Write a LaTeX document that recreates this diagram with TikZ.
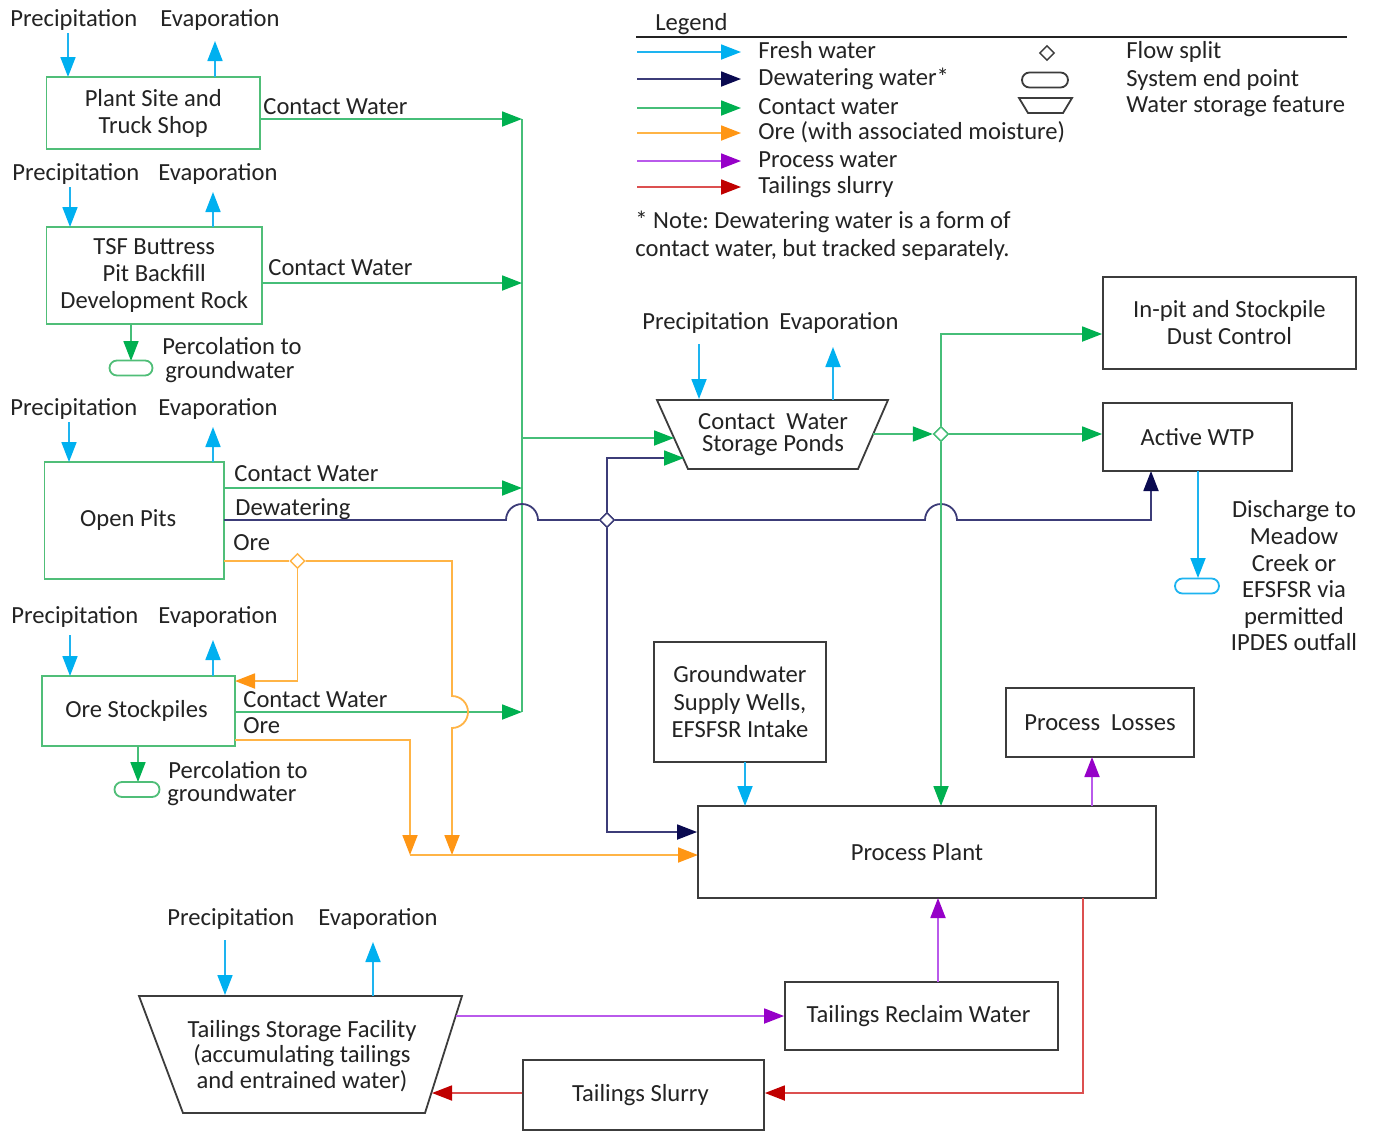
\documentclass[tikz,border=0pt]{standalone}
\usepackage{fontspec}
\setmainfont{Carlito}
\usetikzlibrary{arrows.meta,shapes.geometric,shapes.misc,fit}
\definecolor{freshL}{RGB}{30,180,240}
\definecolor{freshT}{RGB}{0,176,240}
\definecolor{dewL}{RGB}{60,60,120}
\definecolor{dewT}{RGB}{10,10,80}
\definecolor{conL}{RGB}{70,190,120}
\definecolor{conT}{RGB}{0,176,80}
\definecolor{oreL}{RGB}{255,180,70}
\definecolor{oreT}{RGB}{255,150,20}
\definecolor{proL}{RGB}{185,90,235}
\definecolor{proT}{RGB}{150,0,200}
\definecolor{tailL}{RGB}{220,80,80}
\definecolor{tailT}{RGB}{192,0,0}
\definecolor{boxG}{RGB}{80,190,120}
\definecolor{boxK}{RGB}{60,60,60}
\definecolor{txt}{RGB}{35,35,35}
\frenchspacing
\tikzset{
  every node/.style={font=\fontsize{12.3}{13.5}\selectfont, text=txt},
  lbl/.style={anchor=base west, inner sep=0pt},
  ctr/.style={inner sep=0pt, align=center},
  gbox/.style={draw=boxG, line width=0.9pt, inner sep=0pt},
  kbox/.style={draw=boxK, line width=0.9pt, inner sep=0pt},
  tipof/.style={-{Triangle[length=10pt,width=7.5pt,color=#1]}},
  fw/.style={line width=0.9pt, draw=freshL, tipof=freshT},
  dw/.style={line width=0.9pt, draw=dewL, tipof=dewT},
  cw/.style={line width=0.9pt, draw=conL, tipof=conT},
  ow/.style={line width=0.9pt, draw=oreL, tipof=oreT},
  pw/.style={line width=0.9pt, draw=proL, tipof=proT},
  tw/.style={line width=0.9pt, draw=tailL, tipof=tailT},
  cwline/.style={line width=0.9pt, draw=conL},
  dwline/.style={line width=0.9pt, draw=dewL},
  owline/.style={line width=0.9pt, draw=oreL},
  endpt/.style={rounded rectangle, minimum width=#1, minimum height=7.5pt, inner sep=0pt, line width=0.9pt},
  splitpt/.style={diamond, fill=white, inner sep=0pt, minimum size=7.5pt, line width=0.7pt},
}
\begin{document}
\begin{tikzpicture}[x=0.5pt,y=-0.5pt]
\useasboundingbox (0,0) rectangle (1378,1131);
\fill[white] (0,0) rectangle (1378,1131);

% ---------------- Legend ----------------
\node[lbl] (leg) at (655,30) {Legend};
\draw[line width=0.8pt, txt] (636,37) coordinate (legL) -- (1347,37) coordinate (legR);
\coordinate (la1) at (637,52);  \coordinate (lb1) at (741,52);
\coordinate (la2) at (637,79);  \coordinate (lb2) at (741,79);
\coordinate (la3) at (637,108); \coordinate (lb3) at (741,108);
\coordinate (la4) at (637,133); \coordinate (lb4) at (741,133);
\coordinate (la5) at (637,161); \coordinate (lb5) at (741,161);
\coordinate (la6) at (637,187); \coordinate (lb6) at (741,187);
\draw[fw] (la1) -- (lb1);
\draw[dw] (la2) -- (lb2);
\draw[cw] (la3) -- (lb3);
\draw[ow] (la4) -- (lb4);
\draw[pw] (la5) -- (lb5);
\draw[tw] (la6) -- (lb6);
\node[lbl] (lt1) at (758,58) {Fresh water};
\node[lbl] (lt2) at (758,85) {Dewatering water*};
\node[lbl] (lt3) at (758,114) {Contact water};
\node[lbl] (lt4) at (758,139) {Ore (with associated moisture)};
\node[lbl] (lt5) at (758,167) {Process water};
\node[lbl] (lt6) at (758,193) {Tailings slurry};
\node[splitpt, draw=boxK] (lsym1) at (1047,53) {};
\node[endpt=23pt, draw=boxK] (lsym2) at (1045,80) {};
\draw[line width=0.9pt, boxK] (1019,98) -- (1072,98) -- (1063,113) -- (1028,113) -- cycle;
\node[lbl] (ls1) at (1126,58) {Flow split};
\node[lbl] (ls2) at (1126,86) {System end point};
\node[lbl] (ls3) at (1126,112) {Water storage feature};
\node[lbl] (note1) at (635,228) {* Note: Dewatering water is a form of};
\node[lbl] (note2) at (635,256) {contact water, but tracked separately.};

% ---------------- Left column boxes ----------------
\node[gbox, fit={(46.5,77) (260,149)}] (ps) {};
\node[ctr] (pst) at (ps.center) {Plant Site and\\Truck Shop};
\node[gbox, fit={(46.5,227) (262,324)}] (tsfb) {};
\node[ctr] (tsfbt) at (tsfb.center) {TSF Buttress\\Pit Backfill\\Development Rock};
\node[gbox, fit={(44.5,462) (224,579)}] (op) {};
\node[ctr] (opt) at ([xshift=-3pt]op.center) {Open Pits};
\node[gbox, fit={(42,676) (235,746)}] (os) {};
\node[ctr] (ost) at ([xshift=-1pt]os.center) {Ore Stockpiles};

% precipitation / evaporation labels (left)
\node[lbl] (pr1) at (10,26) {Precipitation};
\node[lbl] (ev1) at (160,26) {Evaporation};
\node[lbl] (pr2) at (12,180) {Precipitation};
\node[lbl] (ev2) at (158,180) {Evaporation};
\node[lbl] (pr3) at (10,415) {Precipitation};
\node[lbl] (ev3) at (158,415) {Evaporation};
\node[lbl] (pr4) at (11,623) {Precipitation};
\node[lbl] (ev4) at (158,623) {Evaporation};

\draw[fw] (68,33) -- (68,77);
\draw[fw] (215,77) -- (215,41);
\draw[fw] (70,187) -- (70,227);
\draw[fw] (213,227) -- (213,192);
\draw[fw] (69,422) -- (69,462);
\draw[fw] (213,462) -- (213,427);
\draw[fw] (70,635) -- (70,676);
\draw[fw] (213,676) -- (213,640);

% percolation
\draw[cw] (131,324) -- (131,361);
\node[endpt=21.5pt, draw=boxG] (perc1) at (131,368) {};
\node[lbl] (pc1a) at (162,354) {Percolation to};
\node[lbl] (pc1b) at (165,378) {groundwater};
\draw[cw] (138,746) -- (138,782);
\node[endpt=22.5pt, draw=boxG] (perc2) at (137,789.5) {};
\node[lbl] (pc2a) at (168,778) {Percolation to};
\node[lbl] (pc2b) at (167,801) {groundwater};

% flow labels
\node[lbl] (cwl1) at (263,114) {Contact Water};
\node[lbl] (cwl2) at (268,275) {Contact Water};
\node[lbl] (cwl3) at (234,481) {Contact Water};
\node[lbl] (dwl) at (235,515) {Dewatering};
\node[lbl] (orl1) at (233,550) {Ore};
\node[lbl] (cwl4) at (243,707) {Contact Water};
\node[lbl] (orl2) at (243,733) {Ore};

% contact water bus
\coordinate (busTop) at (522,119);
\coordinate (busBot) at (522,712);
\draw[cwline] (busTop) -- (busBot);
\draw[cw] (ps.east |- busTop) -- (busTop);
\draw[cw] (262,283) -- (522,283);
\draw[cw] (224,488) -- (522,488);
\draw[cw] (os.east |- busBot) -- (busBot);

% ---------------- Contact Water Storage Ponds ----------------
\draw[line width=0.9pt, boxK] (657,400) coordinate (cwTL) -- (888,400) coordinate (cwTR)
   -- (858,469) coordinate (cwBR) -- (688,469) coordinate (cwBL) -- cycle;
\node[ctr, font=\fontsize{12.3}{11}\selectfont] (cwsp) at (773,435) {Contact\ \ Water\\Storage Ponds};
\node[lbl] (prP) at (642,329) {Precipitation};
\node[lbl] (evP) at (779,329) {Evaporation};
\draw[fw] (699,344) -- (699,399);
\draw[fw] (833,400) -- (833,347);
\draw[cw] (522,438) -- (674,438);

% ---------------- Dewatering ----------------
\node[splitpt, draw=dewL] (dsplit) at (607,520) {};
\coordinate (wtpIn) at (1151,471);
\draw[dwline] (224,520) -- (506,520) arc[start angle=180, end angle=360, radius=16]
   -- (dsplit.west);
\draw[dw] (dsplit.east) -- (925,520) arc[start angle=180, end angle=360, radius=16]
   -- (1151,520) -- (wtpIn);
\draw[line width=0.9pt, draw=dewL, tipof=conT] (dsplit.north) -- (607,458) -- (684,458);
\node[splitpt, draw=dewL] (dsplit2) at (607,520) {};

% ---------------- Ore ----------------
\node[splitpt, draw=oreL] (osplit) at (297.5,561) {};
\draw[owline] (224,561) -- (osplit.west);
\draw[ow] (osplit.east) -- (452,561) -- (452,696) arc[start angle=-90, end angle=90, radius=16]
   -- (452,855);
\draw[ow] (osplit.south) -- (297.5,681) -- (235,681);
\draw[ow] (235,740) -- (410,740) -- (410,855);
\draw[ow] (410,855) -- (698,855);

% ---------------- Right side ----------------
\node[kbox, fit={(1103,277) (1356,369)}] (inpit) {};
\node[ctr] (inpitt) at (inpit.center) {In-pit and Stockpile\\Dust Control};
\node[kbox, fit={(1103,403) (1292,471)}] (wtp) {};
\node[ctr] (wtpt) at (wtp.center) {Active WTP};
\node[splitpt, draw=conL] (csplit) at (941,434) {};
\draw[cw] (873,434) -- (csplit.west);
\draw[cw] (csplit.east) -- (wtp.west |- csplit);
\draw[cw] (csplit.north) -- (941,334) -- (inpit.west |- 0,334);
\draw[cw] (csplit.south) -- (941,806);
\node[splitpt, draw=conL] (csplit2) at (941,434) {};

\draw[fw] (1198,471) -- (1198,578);
\node[endpt=22pt, draw=freshL] (disc) at (1197,586) {};
\node[ctr, font=\fontsize{12.3}{13.3}\selectfont] (disct) at (1294,576)
  {Discharge to\\Meadow\\Creek or\\EFSFSR via\\permitted\\IPDES outfall};

\node[kbox, fit={(654,642) (826,762)}] (gw) {};
\node[ctr, font=\fontsize{12.3}{13.75}\selectfont] (gwt) at (gw.center) {Groundwater\\Supply Wells,\\EFSFSR Intake};
\node[kbox, fit={(1006,688) (1194,757)}] (pl) {};
\node[ctr] (plt) at (pl.center) {Process\ \ Losses};
\node[kbox, fit={(698,806) (1156,898)}] (pp) {};
\node[ctr] (ppt) at ([xshift=-5pt]pp.center) {Process Plant};
\node[kbox, fit={(785,982) (1058,1050)}] (trw) {};
\node[ctr] (trwt) at ([xshift=-1.5pt]trw.center) {Tailings Reclaim Water};
\node[kbox, fit={(523,1060) (764,1130)}] (tsl) {};
\node[ctr] (tslt) at ([xshift=-1.5pt]tsl.center) {Tailings Slurry};

\draw[fw] (745,762) -- (745,806);
\draw[dw] (dsplit.south) -- (607,832) -- (pp.west |- 0,832);
\draw[pw] (1092,806) -- (1092,757);
\draw[pw] (938,982) -- (938,898);

% ---------------- TSF ----------------
\draw[line width=0.9pt, boxK] (139,996) coordinate (tsTL) -- (462,996) coordinate (tsTR)
   -- (425,1113) coordinate (tsBR) -- (183,1113) coordinate (tsBL) -- cycle;
\node[ctr, font=\fontsize{12.3}{12.6}\selectfont] (tsf) at (302,1056)
  {Tailings Storage Facility\\(accumulating tailings\\and entrained water)};
\node[lbl] (prT) at (167,925) {Precipitation};
\node[lbl] (evT) at (318,925) {Evaporation};
\draw[fw] (225,940) -- (225,995);
\draw[fw] (373,996) -- (373,942);
\draw[pw] (456,1016) -- (trw.west |- 0,1016);
\draw[tw] (1083,898) -- (1083,1093) -- (tsl.east |- 0,1093);
\draw[tw] (tsl.west |- 0,1093) -- (432,1093);
\end{tikzpicture}
\end{document}
